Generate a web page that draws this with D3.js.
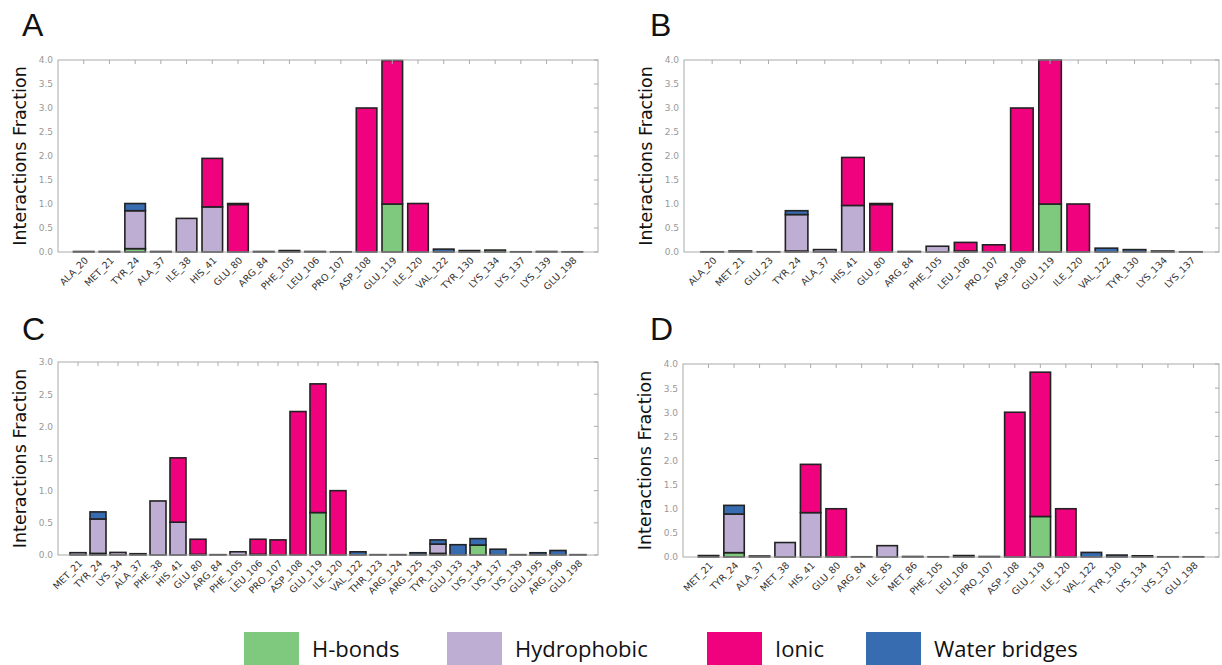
<!DOCTYPE html>
<html>
<head>
<meta charset="utf-8">
<script src="https://cdn.jsdelivr.net/npm/d3@7"></script>
<style>
  body { margin: 0; background: #fff; }
  svg { display: block; }
  .ytick text { font-family: "DejaVu Sans", sans-serif; font-size: 9px; fill: #999; }
  .xtick text { font-family: "DejaVu Sans", sans-serif; font-size: 9.5px; fill: #333; }
  .ylabel { font-family: "DejaVu Sans", sans-serif; font-size: 17.5px; fill: #111; }
  .letter { font-family: "Liberation Sans", Arial, sans-serif; font-size: 32px; fill: #111; }
  .legend text { font-family: "Open Sans", sans-serif; font-size: 22px; fill: #111; }
</style>
</head>
<body>
<div id="chart"></div>
<script>
// interaction types, bottom to top of each stack
var keys   = ["hbond", "hydro", "ionic", "water"],
    names  = ["H-bonds", "Hydrophobic", "Ionic", "Water bridges"],
    colors = ["#7fc97f", "#beaed4", "#f0027f", "#386cb0"];

// panel A
var resA   = ["ALA_20","MET_21","TYR_24","ALA_37","ILE_38","HIS_41","GLU_80","ARG_84","PHE_105","LEU_106","PRO_107","ASP_108","GLU_119","ILE_120","VAL_122","TYR_130","LYS_134","LYS_137","LYS_139","GLU_198"];
var hbondA = [0,0,0.07,0,0,0,0,0,0,0,0,0,1.0,0,0,0,0.04,0,0,0];
var hydroA = [0.01,0.01,0.79,0.01,0.70,0.94,0,0.01,0,0.01,0.005,0,0,0,0,0,0,0.005,0.01,0.005];
var ionicA = [0,0,0,0,0,1.01,0.99,0,0,0,0,3.0,2.99,1.01,0,0,0,0,0,0];
var waterA = [0,0,0.15,0,0,0,0.02,0,0.03,0,0,0,0,0,0.06,0.03,0,0,0,0];

// panel B
var resB   = ["ALA_20","MET_21","GLU_23","TYR_24","ALA_37","HIS_41","GLU_80","ARG_84","PHE_105","LEU_106","PRO_107","ASP_108","GLU_119","ILE_120","VAL_122","TYR_130","LYS_134","LYS_137"];
var hbondB = [0,0,0,0.02,0,0,0,0,0,0,0,0,1.0,0,0,0,0,0];
var hydroB = [0.005,0.02,0.005,0.76,0.05,0.97,0,0.01,0.12,0.02,0,0,0,0,0,0,0.02,0.005];
var ionicB = [0,0,0,0,0,1.0,0.99,0,0,0.18,0.15,3.0,3.0,1.0,0,0,0,0];
var waterB = [0,0,0,0.08,0,0,0.02,0,0,0,0,0,0,0,0.08,0.05,0,0];

// panel C
var resC   = ["MET_21","TYR_24","LYS_34","ALA_37","PHE_38","HIS_41","GLU_80","ARG_84","PHE_105","LEU_106","PRO_107","ASP_108","GLU_119","ILE_120","VAL_122","THR_123","ARG_124","ARG_125","TYR_130","GLU_133","LYS_134","LYS_137","LYS_139","GLU_195","ARG_196","GLU_198"];
var hbondC = [0,0.025,0,0,0,0,0.01,0,0,0.01,0,0,0.66,0,0,0,0,0,0.025,0,0.155,0,0,0,0,0];
var hydroC = [0.036,0.535,0.04,0.02,0.84,0.51,0,0.005,0.05,0,0,0,0,0,0,0.005,0.005,0,0.145,0,0,0,0.005,0,0,0.005];
var ionicC = [0,0,0,0,0,1.0,0.235,0,0,0.235,0.235,2.23,2.0,1.0,0,0,0,0,0,0,0,0,0,0,0,0];
var waterC = [0,0.11,0,0,0,0,0,0,0,0,0,0,0,0,0.05,0,0,0.035,0.065,0.16,0.10,0.09,0,0.035,0.07,0];

// panel D
var resD   = ["MET_21","TYR_24","ALA_37","MET_38","HIS_41","GLU_80","ARG_84","ILE_85","MET_86","PHE_105","LEU_106","PRO_107","ASP_108","GLU_119","ILE_120","VAL_122","TYR_130","LYS_134","LYS_137","GLU_198"];
var hbondD = [0,0.09,0,0,0,0,0,0,0,0,0,0,0,0.84,0,0,0,0,0,0];
var hydroD = [0.03,0.80,0.02,0.30,0.92,0,0.005,0.235,0.01,0.005,0.03,0.01,0,0,0,0,0,0.025,0.005,0.005];
var ionicD = [0,0,0,0,1.0,1.0,0,0,0,0,0,0,3.0,2.99,1.0,0,0,0,0,0];
var waterD = [0,0.18,0,0,0,0,0,0,0,0,0,0,0,0,0,0.095,0.04,0,0,0];

var yTicksA = [0,0.5,1.0,1.5,2.0,2.5,3.0,3.5,4.0];
var yTicksC = [0,0.5,1.0,1.5,2.0,2.5,3.0];

var svg = d3.select("#chart").append("svg")
    .attr("width", 1222)
    .attr("height", 665);

//builds one bar panel inside the given box
function panel(letter, box, residues, series, ymax, yticks, letterPos) {
  var rows = residues.map(function(r, i) {
    var o = {res: r};
    keys.forEach(function(k, j) { o[k] = series[j][i]; });
    return o;
  });

  var width  = box.right - box.left,
      height = box.bottom - box.top;

  var x = d3.scaleBand()
      .domain(residues)
      .range([0, width])
      .paddingInner(0.2)
      .paddingOuter(0.6);

  var y = d3.scaleLinear()
      .domain([0, ymax])
      .range([height, 0]);

  var g = svg.append("g")
      .attr("transform", "translate(" + box.left + "," + box.top + ")");

  var stacked = d3.stack().keys(keys)(rows);

  g.selectAll("g.layer")
    .data(stacked)
    .enter().append("g")
      .attr("class", "layer")
      .attr("fill", function(d, i) { return colors[i]; })
    .selectAll("rect")
    .data(function(d) { return d.filter(function(s) { return s[1] - s[0] > 0; }); })
    .enter().append("rect")
      .attr("x", function(d) { return x(d.data.res); })
      .attr("width", x.bandwidth())
      .attr("y", function(d) { return y(d[1]); })
      .attr("height", function(d) { return y(d[0]) - y(d[1]); })
      .attr("stroke", "#222")
      .attr("stroke-width", 1.6);

  // frame
  g.append("rect")
      .attr("width", width)
      .attr("height", height)
      .attr("fill", "none")
      .attr("stroke", "#aaa")
      .attr("stroke-width", 1);

  // inward ticks on top and right, like the classic style
  g.selectAll("line.tt")
    .data(residues)
    .enter().append("line")
      .attr("x1", function(d) { return x(d) + x.bandwidth() / 2; })
      .attr("x2", function(d) { return x(d) + x.bandwidth() / 2; })
      .attr("y1", 0).attr("y2", 4)
      .attr("stroke", "#aaa");

  g.selectAll("line.rt")
    .data(yticks)
    .enter().append("line")
      .attr("x1", width).attr("x2", width - 4)
      .attr("y1", function(d) { return y(d); })
      .attr("y2", function(d) { return y(d); })
      .attr("stroke", "#aaa");

  var yAxis = g.append("g")
      .attr("class", "ytick")
      .call(d3.axisLeft(y).tickValues(yticks).tickFormat(d3.format(".1f")).tickSize(0).tickPadding(5));
  yAxis.select(".domain").remove();

  var xAxis = g.append("g")
      .attr("class", "xtick")
      .attr("transform", "translate(0," + height + ")")
      .call(d3.axisBottom(x).tickSize(0));
  xAxis.select(".domain").remove();
  xAxis.selectAll("text")
      .attr("text-anchor", "end")
      .attr("dy", null)
      .attr("y", 0)
      .attr("transform", "translate(5,9) rotate(-45)");

  svg.append("text")
      .attr("class", "ylabel")
      .attr("text-anchor", "middle")
      .attr("transform", "translate(" + (box.left - 32) + "," + (box.top + height / 2) + ") rotate(-90)")
      .text("Interactions Fraction");

  svg.append("text")
      .attr("class", "letter")
      .attr("x", letterPos[0])
      .attr("y", letterPos[1])
      .text(letter);
}

panel("A", {left: 58,  right: 598,  top: 60,  bottom: 252}, resA, [hbondA, hydroA, ionicA, waterA], 4, yTicksA, [22, 36]);
panel("B", {left: 684, right: 1219, top: 60,  bottom: 252}, resB, [hbondB, hydroB, ionicB, waterB], 4, yTicksA, [650, 36]);
panel("C", {left: 58,  right: 598,  top: 362, bottom: 555}, resC, [hbondC, hydroC, ionicC, waterC], 3, yTicksC, [22, 340]);
panel("D", {left: 683, right: 1219, top: 364, bottom: 557}, resD, [hbondD, hydroD, ionicD, waterD], 4, yTicksA, [650, 340]);

// legend along the bottom
var legendX = [244, 447, 707, 866];
var legend = svg.append("g").attr("class", "legend");
legend.selectAll("rect")
  .data(names)
  .enter().append("rect")
    .attr("x", function(d, i) { return legendX[i]; })
    .attr("y", 632)
    .attr("width", 55)
    .attr("height", 40)
    .attr("fill", function(d, i) { return colors[i]; });
legend.selectAll("text")
  .data(names)
  .enter().append("text")
    .attr("x", function(d, i) { return legendX[i] + 68; })
    .attr("y", 657)
    .text(function(d) { return d; });
</script>
</body>
</html>
